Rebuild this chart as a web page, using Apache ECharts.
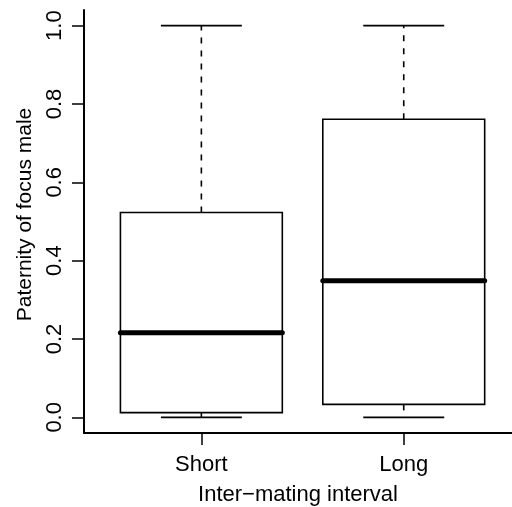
<!DOCTYPE html>
<html>
<head>
<meta charset="utf-8">
<script src="https://cdn.jsdelivr.net/npm/echarts@6/dist/echarts.min.js"></script>
<style>
  html, body { margin: 0; padding: 0; background: #fff; }
  #chart { width: 512px; height: 507px; }
</style>
</head>
<body>
<div id="chart"></div>
<script>
// groups and five-number summaries
const categories = ["Short", "Long"];
const positions = [1, 2];
const lowWhisker = [0.0, 0.0];
const lowerQuartile = [0.012, 0.033];
const medians = [0.216, 0.349];
const upperQuartile = [0.523, 0.761];
const highWhisker = [1.0, 1.0];
const yTicks = [0, 0.2, 0.4, 0.6, 0.8, 1.0];

const font = "Liberation Sans, Arial, Helvetica, sans-serif";

const rows = positions.map((p, i) => [
  p, lowWhisker[i], lowerQuartile[i], medians[i], upperQuartile[i], highWhisker[i]
]);

function renderBox(params, api) {
  const x = api.value(0);
  const pMin = api.coord([x, api.value(1)]);
  const pQ1 = api.coord([x, api.value(2)]);
  const pMed = api.coord([x, api.value(3)]);
  const pQ3 = api.coord([x, api.value(4)]);
  const pMax = api.coord([x, api.value(5)]);
  const boxHalf = api.size([0.4, 0])[0];
  const capHalf = api.size([0.2, 0])[0];
  const cx = pMed[0];
  const thin = { stroke: "#000", lineWidth: 1.6, fill: null };
  const dashed = { stroke: "#000", lineWidth: 1.6, lineDash: [6, 7] };
  return {
    type: "group",
    children: [
      // whiskers
      { type: "line", shape: { x1: cx, y1: pQ3[1], x2: cx, y2: pMax[1] }, style: dashed },
      { type: "line", shape: { x1: cx, y1: pQ1[1], x2: cx, y2: pMin[1] }, style: dashed },
      // caps
      { type: "line", shape: { x1: cx - capHalf, y1: pMax[1], x2: cx + capHalf, y2: pMax[1] }, style: thin },
      { type: "line", shape: { x1: cx - capHalf, y1: pMin[1], x2: cx + capHalf, y2: pMin[1] }, style: thin },
      // box
      {
        type: "rect",
        shape: { x: cx - boxHalf, y: pQ3[1], width: boxHalf * 2, height: pQ1[1] - pQ3[1] },
        style: { stroke: "#000", lineWidth: 1.6, fill: "#fff" }
      },
      // median
      {
        type: "line",
        shape: { x1: cx - boxHalf, y1: pMed[1], x2: cx + boxHalf, y2: pMed[1] },
        style: { stroke: "#000", lineWidth: 5, lineCap: "round" }
      }
    ]
  };
}

const chart = echarts.init(document.getElementById("chart"));
chart.setOption({
  animation: false,
  backgroundColor: "#fff",
  // plot region runs past the right edge of the picture, so the x range is cut at 2.535
  grid: { left: 84, top: 10, right: 0, bottom: 74, containLabel: false, outerBoundsMode: "none" },
  xAxis: {
    type: "value",
    min: 0.42,
    max: 2.535,
    splitLine: { show: false },
    axisLine: { show: true, onZero: false, lineStyle: { color: "#000", width: 2 } },
    axisTick: { show: true, length: 12, customValues: positions, lineStyle: { color: "#000", width: 1.5 } },
    axisLabel: {
      customValues: positions,
      formatter: v => categories[positions.indexOf(v)],
      color: "#000", fontFamily: font, fontSize: 22, margin: 21
    },
    name: "Inter\u2212mating interval",
    nameLocation: "middle",
    nameGap: 51,
    nameTextStyle: { color: "#000", fontFamily: font, fontSize: 22 }
  },
  yAxis: {
    type: "value",
    min: -0.04,
    max: 1.04,
    splitLine: { show: false },
    axisLine: { show: true, onZero: false, lineStyle: { color: "#000", width: 2 } },
    axisTick: { show: true, length: 12, customValues: yTicks, lineStyle: { color: "#000", width: 1.5 } },
    axisLabel: {
      customValues: yTicks,
      formatter: v => v.toFixed(1),
      rotate: 90,
      color: "#000", fontFamily: font, fontSize: 22, margin: 18
    },
    name: "Paternity of focus male",
    nameLocation: "middle",
    nameRotate: 90,
    nameGap: 48,
    // left padding nudges the rotated title a little upward, as in the reference
    nameTextStyle: { color: "#000", fontFamily: font, fontSize: 21, padding: [0, 0, 0, 14] }
  },
  series: [
    {
      type: "custom",
      renderItem: renderBox,
      data: rows,
      clip: false,
      encode: { x: 0, y: [1, 2, 3, 4, 5] }
    }
  ]
});
</script>
</body>
</html>
